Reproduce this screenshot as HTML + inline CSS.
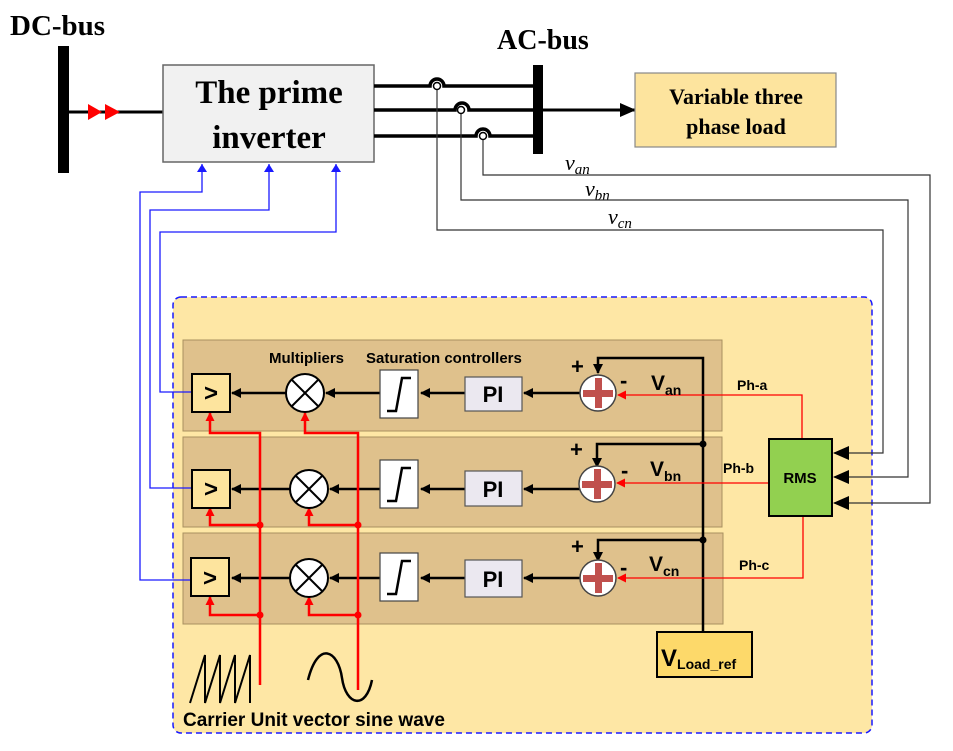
<!DOCTYPE html>
<html><head><meta charset="utf-8"><style>
html,body{margin:0;padding:0;background:#fff}
svg{display:block}
.s{font-family:"Liberation Serif",serif;font-weight:bold}
.a{font-family:"Liberation Sans",sans-serif;font-weight:bold}
</style></head><body>
<svg width="953" height="751" viewBox="0 0 953 751" xmlns="http://www.w3.org/2000/svg">
<defs>
<marker id="ak" markerWidth="10" markerHeight="10" refX="9" refY="5" orient="auto" markerUnits="userSpaceOnUse"><path d="M0,0 L10,5 L0,10 z" fill="#000"/></marker>
<marker id="ab" markerWidth="8" markerHeight="10" refX="8" refY="5" orient="auto" markerUnits="userSpaceOnUse"><path d="M0,0 L8,5 L0,10 z" fill="#1a1aff"/></marker>
<marker id="ar" markerWidth="9" markerHeight="9" refX="8" refY="4.5" orient="auto" markerUnits="userSpaceOnUse"><path d="M0,0 L9,4.5 L0,9 z" fill="#f00"/></marker>
<marker id="abig" markerWidth="16" markerHeight="14" refX="15" refY="7" orient="auto" markerUnits="userSpaceOnUse"><path d="M0,0 L16,7 L0,14 z" fill="#000"/></marker>
</defs>

<!-- top -->
<text x="10" y="35" class="s" font-size="29">DC-bus</text>
<rect x="58" y="46" width="11" height="127" fill="#000"/>
<line x1="69" y1="112" x2="163" y2="112" stroke="#000" stroke-width="3"/>
<path d="M88,104 L102,112 L88,120 z M105,104 L120,112 L105,120 z" fill="#f00"/>
<rect x="163" y="65" width="211" height="97" fill="#f1f1f1" stroke="#666" stroke-width="1.5"/>
<text x="269" y="103" class="s" font-size="33" text-anchor="middle">The prime</text>
<text x="269" y="148" class="s" font-size="33" text-anchor="middle">inverter</text>

<text x="497" y="49" class="s" font-size="28">AC-bus</text>
<rect x="533" y="65" width="10" height="89" fill="#000"/>
<g stroke="#000" stroke-width="3.5" fill="none">
<path d="M374,86 H430 A7,7 0 0 1 444,86 H533"/>
<path d="M374,110 H455 A7,7 0 0 1 469,110 H533"/>
<path d="M374,136 H476 A7,7 0 0 1 490,136 H533"/>
</g>
<line x1="543" y1="110" x2="635" y2="110" stroke="#000" stroke-width="3" marker-end="url(#abig)"/>
<rect x="635" y="73" width="201" height="74" fill="#fde49e" stroke="#888" stroke-width="1.2"/>
<text x="736" y="104" class="s" font-size="22" text-anchor="middle">Variable three</text>
<text x="736" y="134" class="s" font-size="22" text-anchor="middle">phase load</text>
<g font-family="Liberation Serif,serif" font-style="italic" font-size="22">
<text x="565" y="170">v<tspan font-size="15" dy="4">an</tspan></text>
<text x="585" y="196">v<tspan font-size="15" dy="4">bn</tspan></text>
<text x="608" y="224">v<tspan font-size="15" dy="4">cn</tspan></text>
</g>

<!-- big container -->
<rect x="173" y="297" width="699" height="436" rx="8" fill="#fee7a5" stroke="#1a1aff" stroke-width="1.5" stroke-dasharray="6,4"/>
<g fill="#dfc18c" stroke="#a89060" stroke-width="1">
<rect x="183" y="340" width="539" height="91"/>
<rect x="183" y="437" width="539" height="90"/>
<rect x="183" y="533" width="540" height="91"/>
</g>

<g stroke="#333" stroke-width="1.2" fill="none">
<path d="M483,136 V175 H930 V503 H834" marker-end="url(#abig)"/>
<path d="M461,110 V200 H908 V477 H834" marker-end="url(#abig)"/>
<path d="M437,86 V230 H883 V453 H834" marker-end="url(#abig)"/>
</g>
<g fill="#fff" stroke="#000" stroke-width="1.5">
<circle cx="437" cy="86" r="3.5"/><circle cx="461" cy="110" r="3.5"/><circle cx="483" cy="136" r="3.5"/>
</g>

<!-- blue -->
<g stroke="#1a1aff" stroke-width="1.3" fill="none">
<path d="M192,392 H160 V232 H336 V164" marker-end="url(#ab)"/>
<path d="M192,488 H150 V210 H269 V164" marker-end="url(#ab)"/>
<path d="M192,580 H140 V192 H202 V164" marker-end="url(#ab)"/>
</g>

<text x="269" y="363" class="a" font-size="15">Multipliers</text>
<text x="366" y="363" class="a" font-size="15">Saturation controllers</text>

<g stroke="#000" stroke-width="2.5" fill="none">
<line x1="580" y1="393" x2="524" y2="393" marker-end="url(#ak)"/>
<line x1="465" y1="393" x2="421" y2="393" marker-end="url(#ak)"/>
<line x1="380" y1="393" x2="326" y2="393" marker-end="url(#ak)"/>
<line x1="286" y1="393" x2="232" y2="393" marker-end="url(#ak)"/>
<line x1="580" y1="489" x2="524" y2="489" marker-end="url(#ak)"/>
<line x1="465" y1="489" x2="421" y2="489" marker-end="url(#ak)"/>
<line x1="380" y1="489" x2="330" y2="489" marker-end="url(#ak)"/>
<line x1="290" y1="489" x2="232" y2="489" marker-end="url(#ak)"/>
<line x1="580" y1="578" x2="524" y2="578" marker-end="url(#ak)"/>
<line x1="465" y1="578" x2="421" y2="578" marker-end="url(#ak)"/>
<line x1="380" y1="578" x2="330" y2="578" marker-end="url(#ak)"/>
<line x1="290" y1="578" x2="232" y2="578" marker-end="url(#ak)"/>
</g>

<!-- red -->
<g stroke="#f00" stroke-width="2.5" fill="none">
<path d="M260,685 V433 H210 V413" marker-end="url(#ar)"/>
<path d="M358,690 V433 H305 V413" marker-end="url(#ar)"/>
<path d="M260,525 H210 V508" marker-end="url(#ar)"/>
<path d="M358,525 H309 V508" marker-end="url(#ar)"/>
<path d="M260,615 H210 V597" marker-end="url(#ar)"/>
<path d="M358,615 H309 V597" marker-end="url(#ar)"/>
</g>
<g fill="#f00"><circle cx="260" cy="525" r="3.5"/><circle cx="358" cy="525" r="3.5"/><circle cx="260" cy="615" r="3.5"/><circle cx="358" cy="615" r="3.5"/></g>

<g fill="#fde49e" stroke="#000" stroke-width="2">
<rect x="192" y="374" width="38" height="38"/>
<rect x="192" y="470" width="38" height="38"/>
<rect x="191" y="558" width="38" height="38"/>
</g>
<g class="a" font-size="24" text-anchor="middle">
<text x="211" y="401">&gt;</text><text x="211" y="497">&gt;</text><text x="210" y="586">&gt;</text>
</g>
<g stroke="#000" stroke-width="2" fill="#fff">
<circle cx="305" cy="393" r="19"/><circle cx="309" cy="489" r="19"/><circle cx="309" cy="578" r="19"/>
</g>
<g stroke="#000" stroke-width="2">
<path d="M292,380 L318,406 M318,380 L292,406"/>
<path d="M296,476 L322,502 M322,476 L296,502"/>
<path d="M296,565 L322,591 M322,565 L296,591"/>
</g>
<g fill="#fff" stroke="#444" stroke-width="1.2">
<rect x="380" y="370" width="38" height="48"/>
<rect x="380" y="460" width="38" height="48"/>
<rect x="380" y="553" width="38" height="48"/>
</g>
<g stroke="#000" stroke-width="2.5" fill="none">
<path d="M387,411 H396 L402,378 H411"/>
<path d="M387,501 H396 L402,468 H411"/>
<path d="M387,594 H396 L402,561 H411"/>
</g>
<g fill="#ebe8f0" stroke="#555" stroke-width="1.2">
<rect x="465" y="377" width="57" height="34"/>
<rect x="465" y="471" width="57" height="35"/>
<rect x="465" y="560" width="57" height="37"/>
</g>
<g class="a" font-size="22" text-anchor="middle">
<text x="493" y="402">PI</text><text x="493" y="497">PI</text><text x="493" y="587">PI</text>
</g>

<g stroke="#000" stroke-width="2.5" fill="none">
<path d="M703,632 V358 H598 V373" marker-end="url(#ak)"/>
<path d="M703,444 H597 V467" marker-end="url(#ak)"/>
<path d="M703,540 H598 V561" marker-end="url(#ak)"/>
</g>
<circle cx="703" cy="444" r="3.5"/><circle cx="703" cy="540" r="3.5"/>

<g stroke="#444" stroke-width="1.5" fill="#fff">
<circle cx="598" cy="393" r="18"/><circle cx="597" cy="484" r="18"/><circle cx="598" cy="578" r="18"/>
</g>
<g fill="#c0504d">
<rect x="595" y="378" width="7" height="30"/><rect x="583" y="390" width="30" height="7"/>
<rect x="594" y="469" width="7" height="30"/><rect x="582" y="481" width="30" height="7"/>
<rect x="595" y="563" width="7" height="30"/><rect x="583" y="575" width="30" height="7"/>
</g>

<g stroke="#f00" stroke-width="1.3" fill="none">
<path d="M802,439 V395 H618" marker-end="url(#ar)"/>
<path d="M769,483 H617" marker-end="url(#ar)"/>
<path d="M803,516 V578 H618" marker-end="url(#ar)"/>
</g>
<rect x="769" y="439" width="63" height="77" fill="#92d050" stroke="#000" stroke-width="2"/>
<text x="800" y="483" class="a" font-size="15" text-anchor="middle">RMS</text>

<g class="a" font-size="14">
<text x="737" y="390">Ph-a</text><text x="723" y="473">Ph-b</text><text x="739" y="570">Ph-c</text>
</g>
<g class="a" font-size="22">
<text x="571" y="374">+</text><text x="570" y="457">+</text><text x="571" y="554">+</text>
<text x="620" y="388">-</text><text x="621" y="478">-</text><text x="620" y="575">-</text>
</g>
<g class="a" font-size="21">
<text x="651" y="390">V<tspan font-size="14" dy="5">an</tspan></text>
<text x="650" y="476">V<tspan font-size="14" dy="5">bn</tspan></text>
<text x="649" y="571">V<tspan font-size="14" dy="5">cn</tspan></text>
</g>

<rect x="657" y="632" width="95" height="45" fill="#fdd96a" stroke="#000" stroke-width="2"/>
<text x="661" y="666" class="a" font-size="24">V<tspan font-size="14" dy="3">Load_ref</tspan></text>

<path d="M190,703 L205,655 L205,703 L220,655 L220,703 L235,655 L235,703 L250,655 L250,703" stroke="#000" stroke-width="2" fill="none"/>
<path d="M308,680 C318,640 338,650 342,678 C346,706 366,710 372,680" stroke="#000" stroke-width="2.5" fill="none"/>
<text x="183" y="726" class="a" font-size="19">Carrier Unit vector sine wave</text>
</svg>
</body></html>
